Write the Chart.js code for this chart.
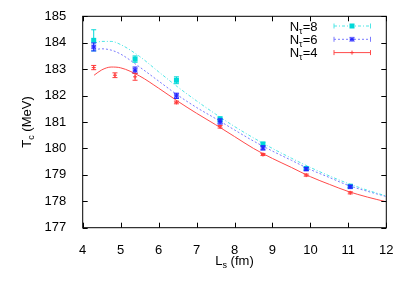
<!DOCTYPE html>
<html>
<head>
<meta charset="utf-8">
<script src="https://cdn.jsdelivr.net/npm/chart.js"></script>
<style>
  body { margin: 0; background: #fff; }
  canvas { display: block; }
</style>
</head>
<body>
<canvas id="myChart" width="407" height="285" style="width:407px;height:285px"></canvas>
<script>
// tick labels
var xTickValues = [4, 5, 6, 7, 8, 9, 10, 11, 12];
var yTickValues = [177, 178, 179, 180, 181, 182, 183, 184, 185];

// lattice data, L_s in fm
var lsValues = [4.29, 5.38, 6.47, 7.62, 8.75, 9.89, 11.05];
var tc8 = [184.09, 183.38, 182.58, 181.10, 180.16, 179.24, 178.57];
var err8 = [0.40, 0.12, 0.13, 0.10, 0.08, 0.05, 0.05];
var tc6 = [183.84, 182.96, 181.99, 181.02, 180.02, 179.22, 178.55];
var err6 = [0.15, 0.12, 0.10, 0.10, 0.08, 0.06, 0.05];
var ls4 = [4.29, 4.85, 5.38, 6.47, 7.62, 8.75, 9.89, 11.05];
var tc4 = [183.06, 182.77, 182.71, 181.74, 180.82, 179.77, 178.99, 178.32];
var err4 = [0.08, 0.09, 0.13, 0.05, 0.05, 0.04, 0.04, 0.04];

// fit curves
var fitLs = [4.3, 4.5, 4.75, 5, 5.5, 6, 6.5, 7, 7.5, 8, 8.5, 9, 9.5, 10, 10.5, 11, 11.5, 12];
var fit8 = [183.98, 184.05, 184.05, 183.93, 183.48, 182.90, 182.33, 181.80, 181.30, 180.83, 180.40, 180.00, 179.63, 179.28, 178.96, 178.67, 178.42, 178.20];
var fit6 = [183.73, 183.77, 183.72, 183.57, 183.08, 182.55, 182.02, 181.55, 181.13, 180.70, 180.28, 179.90, 179.55, 179.20, 178.90, 178.60, 178.38, 178.18];
var fit4 = [182.77, 182.97, 183.08, 183.05, 182.74, 182.28, 181.79, 181.33, 180.90, 180.45, 180.00, 179.62, 179.28, 178.93, 178.64, 178.37, 178.16, 177.98];

var FONT = '"Liberation Sans", Arial, Helvetica, sans-serif';

function toPoints(xs, ys) {
    var out = [];
    xs.forEach(function (x, i) { out.push({ x: x, y: ys[i] }); });
    return out;
}

var series = [
    { label: '8', fit: fit8, xs: lsValues, ys: tc8, err: err8, point: '#00d8d8', line: '#4ee6e6', dash: [3, 2, 1, 2], marker: 'square' },
    { label: '6', fit: fit6, xs: lsValues, ys: tc6, err: err6, point: '#2424ff', line: '#7a7aff', dash: [2, 2], marker: 'star' },
    { label: '4', fit: fit4, xs: ls4, ys: tc4, err: err4, point: '#ff3a3a', line: '#ff4a4a', dash: [], marker: 'plus' }
];

var datasets = [];
series.forEach(function (s) {
    datasets.push({
        label: 'fit ' + s.label,
        data: toPoints(fitLs, s.fit),
        showLine: true,
        pointRadius: 0,
        borderColor: s.line,
        borderWidth: 1,
        borderDash: s.dash,
        cubicInterpolationMode: 'monotone',
        fill: false
    });
});
series.forEach(function (s) {
    datasets.push({
        label: 'N=' + s.label,
        data: toPoints(s.xs, s.ys),
        showLine: false,
        pointRadius: 0,
        errors: s.err,
        marker: s.marker,
        color: s.point
    });
});

function drawMarker(ctx, kind, color, x, y) {
    ctx.save();
    ctx.setLineDash([]);
    ctx.strokeStyle = color;
    ctx.fillStyle = color;
    ctx.lineWidth = 1;
    if (kind === 'square') {
        ctx.fillRect(x - 2.5, y - 2.5, 5, 5);
    } else if (kind === 'star') {
        ctx.globalAlpha = 0.45;
        ctx.fillRect(x - 2.5, y - 2.5, 5, 5);
        ctx.globalAlpha = 1;
        ctx.beginPath();
        ctx.moveTo(x - 2, y - 2); ctx.lineTo(x + 2, y + 2);
        ctx.moveTo(x + 2, y - 2); ctx.lineTo(x - 2, y + 2);
        ctx.moveTo(x - 2, y); ctx.lineTo(x + 2, y);
        ctx.moveTo(x, y - 2); ctx.lineTo(x, y + 2);
        ctx.stroke();
    } else {
        ctx.beginPath();
        ctx.moveTo(x - 2, y); ctx.lineTo(x + 2, y);
        ctx.moveTo(x, y - 2); ctx.lineTo(x, y + 2);
        ctx.stroke();
    }
    ctx.restore();
}

function drawErrorBar(ctx, color, x, yTop, yBot) {
    ctx.save();
    ctx.setLineDash([]);
    ctx.strokeStyle = color;
    ctx.lineWidth = 1;
    ctx.beginPath();
    ctx.moveTo(x, yTop); ctx.lineTo(x, yBot);
    ctx.moveTo(x - 2.5, yTop); ctx.lineTo(x + 2.5, yTop);
    ctx.moveTo(x - 2.5, yBot); ctx.lineTo(x + 2.5, yBot);
    ctx.stroke();
    ctx.restore();
}

// text with a subscript: main, sub, rest
function subText(ctx, main, sub, rest, x, y, align) {
    ctx.font = '13px ' + FONT;
    var w1 = ctx.measureText(main).width;
    var w3 = ctx.measureText(rest).width;
    ctx.font = '9px ' + FONT;
    var w2 = ctx.measureText(sub).width;
    var total = w1 + w2 + w3;
    var start = x;
    if (align === 'right') start = x - total;
    if (align === 'center') start = x - total / 2;
    ctx.textAlign = 'left';
    ctx.textBaseline = 'alphabetic';
    ctx.fillStyle = '#000';
    ctx.font = '13px ' + FONT;
    ctx.fillText(main, start, y);
    ctx.font = '9px ' + FONT;
    ctx.fillText(sub, start + w1, y + 3);
    ctx.font = '13px ' + FONT;
    ctx.fillText(rest, start + w1 + w2, y);
}

var gnuplotLook = {
    id: 'gnuplotLook',
    afterDatasetsDraw: function (chart) {
        var ctx = chart.ctx;
        var xs = chart.scales.x, ys = chart.scales.y;
        chart.data.datasets.forEach(function (ds) {
            if (!ds.errors) return;
            ds.data.forEach(function (p, j) {
                var px = xs.getPixelForValue(p.x);
                drawErrorBar(ctx, ds.color, px,
                    ys.getPixelForValue(p.y + ds.errors[j]),
                    ys.getPixelForValue(p.y - ds.errors[j]));
                drawMarker(ctx, ds.marker, ds.color, px, ys.getPixelForValue(p.y));
            });
        });
    },
    afterDraw: function (chart) {
        var ctx = chart.ctx;
        var a = chart.chartArea;
        var xs = chart.scales.x, ys = chart.scales.y;

        // frame and inward ticks on all four sides
        ctx.save();
        ctx.strokeStyle = '#000';
        ctx.lineWidth = 1;
        ctx.setLineDash([]);
        ctx.strokeRect(a.left, a.top, a.right - a.left, a.bottom - a.top);
        ctx.beginPath();
        xTickValues.forEach(function (v) {
            var px = Math.round(xs.getPixelForValue(v)) + 0.5;
            ctx.moveTo(px, a.bottom); ctx.lineTo(px, a.bottom - 5);
            ctx.moveTo(px, a.top); ctx.lineTo(px, a.top + 5);
        });
        yTickValues.forEach(function (v) {
            var py = Math.round(ys.getPixelForValue(v)) + 0.5;
            ctx.moveTo(a.left, py); ctx.lineTo(a.left + 5, py);
            ctx.moveTo(a.right, py); ctx.lineTo(a.right - 5, py);
        });
        ctx.stroke();
        ctx.restore();

        // legend
        var rows = [26, 39.3, 52.6];
        series.forEach(function (s, i) {
            var y = rows[i];
            ctx.save();
            subText(ctx, 'N', '\u03c4', '=' + s.label, 317.5, y + 4.5, 'right');
            ctx.strokeStyle = s.line;
            ctx.lineWidth = 1;
            ctx.setLineDash(s.dash);
            ctx.beginPath();
            ctx.moveTo(334, y); ctx.lineTo(370.5, y);
            ctx.stroke();
            ctx.setLineDash([]);
            ctx.beginPath();
            ctx.moveTo(334, y - 2.5); ctx.lineTo(334, y + 2.5);
            ctx.moveTo(370.5, y - 2.5); ctx.lineTo(370.5, y + 2.5);
            ctx.stroke();
            ctx.restore();
            drawMarker(ctx, s.marker, s.point, 352, y);
        });

        // axis titles
        ctx.save();
        subText(ctx, 'L', 's', ' (fm)', (a.left + a.right) / 2, 265, 'center');
        ctx.translate(31, (a.top + a.bottom) / 2);
        ctx.rotate(-Math.PI / 2);
        subText(ctx, 'T', 'c', ' (MeV)', 0, 0, 'center');
        ctx.restore();
    }
};

var ctx = document.getElementById('myChart').getContext('2d');

var chart = new Chart(ctx, {
    type: 'scatter',
    data: { datasets: datasets },
    options: {
        responsive: false,
        animation: false,
        events: [],
        layout: {
            padding: { left: 0, right: 20.7, top: 15.7, bottom: 0 }
        },
        plugins: {
            legend: { display: false },
            tooltip: { enabled: false }
        },
        scales: {
            x: {
                type: 'linear',
                min: 4,
                max: 12,
                afterBuildTicks: function (scale) {
                    scale.ticks = xTickValues.map(function (v) { return { value: v }; });
                },
                afterFit: function (scale) { scale.height = 57.3; },
                grid: { display: false },
                border: { display: false },
                ticks: {
                    color: '#000',
                    padding: 7,
                    maxRotation: 0,
                    font: { family: FONT, size: 13 }
                }
            },
            y: {
                min: 177,
                max: 185,
                afterBuildTicks: function (scale) {
                    scale.ticks = yTickValues.map(function (v) { return { value: v }; });
                },
                afterFit: function (scale) { scale.width = 82.7; },
                grid: { display: false },
                border: { display: false },
                ticks: {
                    color: '#000',
                    padding: 8.5,
                    font: { family: FONT, size: 13 }
                }
            }
        }
    },
    plugins: [gnuplotLook]
});
</script>
</body>
</html>
